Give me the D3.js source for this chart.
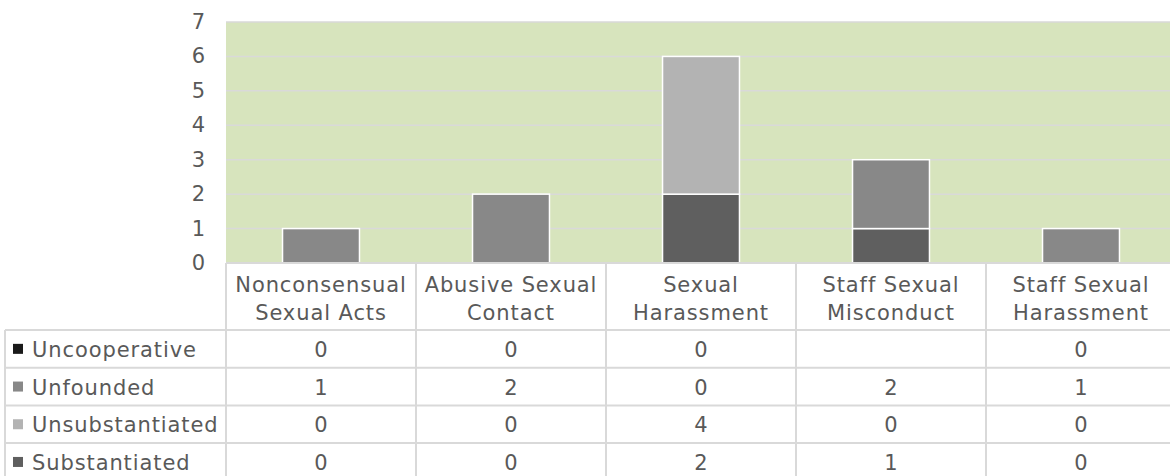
<!DOCTYPE html>
<html>
<head>
<meta charset="utf-8">
<script src="https://cdn.jsdelivr.net/npm/d3@7"></script>
<style>
  body { margin: 0; background: #fff; }
  text { font-family: "Century Gothic", "DejaVu Sans", sans-serif; fill: #595959; }
</style>
</head>
<body>
<div id="chart"></div>
<script>
// categories and series (bottom of stack first)
var categories = [
  ["Nonconsensual", "Sexual Acts"],
  ["Abusive Sexual", "Contact"],
  ["Sexual", "Harassment"],
  ["Staff Sexual", "Misconduct"],
  ["Staff Sexual", "Harassment"]
];
var substantiated   = [0, 0, 2, 1, 0];
var unsubstantiated = [0, 0, 4, 0, 0];
var unfounded       = [1, 2, 0, 2, 1];
var uncooperative   = [0, 0, 0, null, 0];
var yTicks = [0, 1, 2, 3, 4, 5, 6, 7];

var series = [
  {name: "Substantiated",   values: substantiated,   color: "#5f5f5f"},
  {name: "Unsubstantiated", values: unsubstantiated, color: "#b3b3b3"},
  {name: "Unfounded",       values: unfounded,       color: "#888888"},
  {name: "Uncooperative",   values: uncooperative,   color: "#1a1a1a"}
];

const W = 1170, H = 476;
const plot = {left: 226, right: 1176, top: 22, bottom: 263};
const headerH = 67, rowH = 37.7, legendLeft = 5;
const fontSize = 21;

const svg = d3.select("#chart").append("svg")
  .attr("width", W).attr("height", H);

const keys = categories.map(function(d, i) { return i; });
const x = d3.scaleBand().domain(keys).range([plot.left, plot.right]).padding(0);
const y = d3.scaleLinear().domain([0, 7]).range([plot.bottom, plot.top]);

// plot background
svg.append("rect")
  .attr("x", plot.left).attr("y", plot.top)
  .attr("width", plot.right - plot.left).attr("height", plot.bottom - plot.top)
  .attr("fill", "#d7e4bd");

// gridlines
svg.append("g").selectAll("line")
  .data(yTicks.filter(function(t) { return t > 0; }))
  .join("line")
    .attr("x1", plot.left).attr("x2", plot.right)
    .attr("y1", function(d) { return y(d); }).attr("y2", function(d) { return y(d); })
    .attr("stroke", "#d9d9d9").attr("stroke-width", 1.5);

// y axis labels
svg.append("g").selectAll("text")
  .data(yTicks)
  .join("text")
    .attr("x", 205)
    .attr("y", function(d) { return y(d) + 7; })
    .attr("text-anchor", "end")
    .style("font-size", "21px")
    .text(function(d) { return d; });

// stacked bars
var rows = keys.map(function(i) {
  var r = {};
  series.forEach(function(s) { r[s.name] = s.values[i] || 0; });
  return r;
});
var stack = d3.stack().keys(series.map(function(s) { return s.name; }))(rows);
var bw = x.bandwidth() * 0.405;

svg.append("g").selectAll("g")
  .data(stack)
  .join("g")
    .attr("fill", function(d, i) { return series[i].color; })
  .selectAll("rect")
  .data(function(d) { return d.map(function(v, i) { return {v: v, i: i}; }); })
  .join("rect")
    .filter(function(d) { return d.v[1] - d.v[0] > 0; })
    .attr("x", function(d) { return x(d.i) + (x.bandwidth() - bw) / 2; })
    .attr("width", bw)
    .attr("y", function(d) { return y(d.v[1]); })
    .attr("height", function(d) { return y(d.v[0]) - y(d.v[1]); })
    .attr("stroke", "#fff").attr("stroke-width", 1.5);

// data table
var grid = svg.append("g").attr("stroke", "#d9d9d9").attr("stroke-width", 2);
var tableTop = plot.bottom, rowsTop = plot.bottom + headerH;
var tableRows = series.slice().reverse();
var tableBottom = rowsTop + rowH * tableRows.length;

// horizontal lines
grid.append("line").attr("x1", plot.left).attr("x2", plot.right)
  .attr("y1", tableTop).attr("y2", tableTop);
d3.range(tableRows.length + 1).forEach(function(r) {
  grid.append("line").attr("x1", legendLeft).attr("x2", plot.right)
    .attr("y1", rowsTop + r * rowH).attr("y2", rowsTop + r * rowH);
});
// vertical lines
grid.append("line").attr("x1", legendLeft).attr("x2", legendLeft)
  .attr("y1", rowsTop).attr("y2", tableBottom);
keys.concat([keys.length]).forEach(function(i) {
  var xx = i < keys.length ? x(i) : plot.right;
  grid.append("line").attr("x1", xx).attr("x2", xx)
    .attr("y1", tableTop).attr("y2", tableBottom);
});

// header labels
categories.forEach(function(lines, i) {
  lines.forEach(function(t, k) {
    svg.append("text")
      .attr("x", x(i) + x.bandwidth() / 2)
      .attr("y", 292 + k * 28)
      .attr("text-anchor", "middle")
      .style("font-size", fontSize + "px")
      .style("letter-spacing", "0.9px")
      .text(t);
  });
});

// rows
tableRows.forEach(function(s, r) {
  var cy = rowsTop + r * rowH + rowH / 2;
  svg.append("rect")
    .attr("x", 13).attr("y", cy - 5).attr("width", 10).attr("height", 10)
    .attr("fill", s.color);
  svg.append("text")
    .attr("x", 32).attr("y", cy + 8)
    .style("font-size", fontSize + "px")
    .style("letter-spacing", "0.9px")
    .text(s.name);
  s.values.forEach(function(v, i) {
    if (v === null) return;
    svg.append("text")
      .attr("x", x(i) + x.bandwidth() / 2)
      .attr("y", cy + 8)
      .attr("text-anchor", "middle")
      .style("font-size", fontSize + "px")
      .text(v);
  });
});
</script>
</body>
</html>
